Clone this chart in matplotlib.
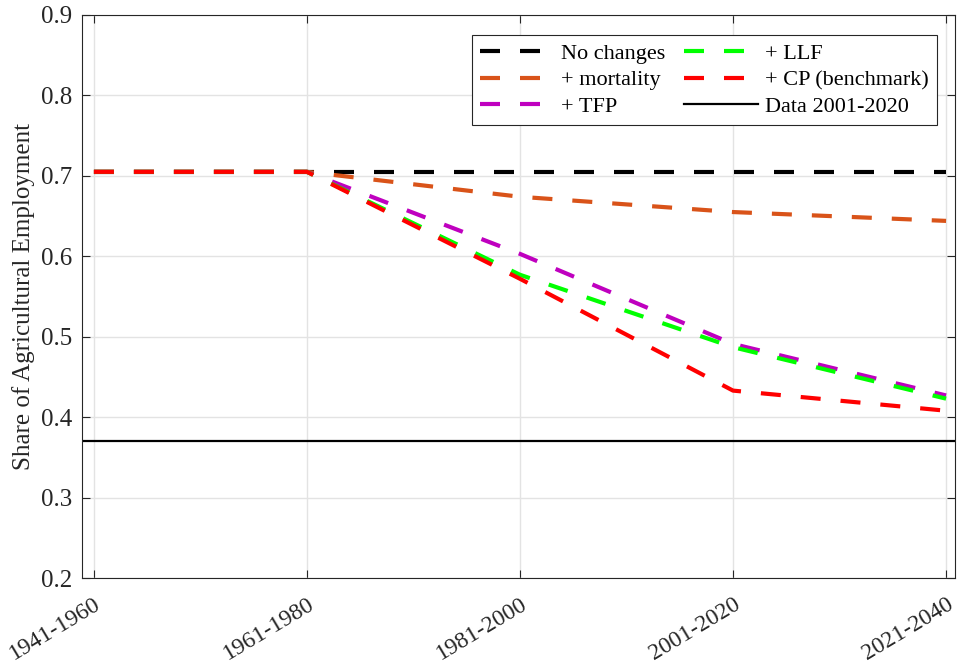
import matplotlib
matplotlib.use("Agg")
import matplotlib.pyplot as plt
import matplotlib.transforms as mtransforms

plt.rcParams['font.family'] = ['Liberation Serif', 'DejaVu Serif']
plt.rcParams['lines.scale_dashes'] = False

periods = ["1941-1960", "1961-1980", "1981-2000", "2001-2020", "2021-2040"]
no_changes = [0.705, 0.705, 0.705, 0.705, 0.705]
mortality = [0.705, 0.705, 0.674, 0.655, 0.644]
tfp = [0.705, 0.705, 0.603, 0.491, 0.427]
llf = [0.705, 0.705, 0.577, 0.487, 0.423]
cp_benchmark = [0.705, 0.705, 0.572, 0.433, 0.408]
data_2001_2020 = 0.370

x = list(range(1, len(periods) + 1))

fig = plt.figure(figsize=(9.6, 6.69), dpi=100)
ax = fig.add_axes([0.0854, 0.136, 0.9094, 0.8416])

lw = 3.0
dash = (14.4, 14.4)
series = [
    (no_changes, "#000000", "No changes"),
    (mortality, "#D95319", "+ mortality"),
    (tfp, "#BF00BF", "+ TFP"),
    (llf, "#00FF00", "+ LLF"),
    (cp_benchmark, "#FF0000", "+ CP (benchmark)"),
]
handles = []
for vals, col, lab in series:
    h, = ax.plot(x, vals, color=col, lw=lw, linestyle=(0, dash), label=lab,
                 dash_capstyle='butt', solid_joinstyle='miter')
    handles.append(h)
hd = ax.axhline(data_2001_2020, color='black', lw=1.6, label="Data 2001-2020")
handles.append(hd)

ax.set_xlim(0.944, 5.042)
ax.set_ylim(0.2, 0.9)
ax.set_yticks([0.2, 0.3, 0.4, 0.5, 0.6, 0.7, 0.8, 0.9])
ax.set_xticks(x)
ax.set_xticklabels(periods, rotation=31, ha='right', va='top', rotation_mode='anchor',
                   fontsize=17)
offset = mtransforms.ScaledTranslation(0.19, 0.0, fig.dpi_scale_trans)
for lbl in ax.get_xticklabels():
    lbl.set_transform(lbl.get_transform() + offset)

ax.grid(True, color='#e3e3e3', lw=1.0)
ax.set_axisbelow(True)
ax.tick_params(direction='in', top=True, right=True, length=6,
               width=0.8, colors='#262626', labelcolor='#262626')
ax.tick_params(axis='y', pad=7, labelsize=18)
ax.tick_params(axis='x', pad=11)
for sp in ax.spines.values():
    sp.set_color('#262626')
    sp.set_linewidth(0.8)

ax.set_ylabel("Share of Agricultural Employment", fontsize=18, color='#262626', labelpad=4)

leg = ax.legend(handles, [h.get_label() for h in handles],
                ncol=2, loc='upper right', bbox_to_anchor=(0.979, 0.9645),
                borderaxespad=0, fontsize=16, frameon=True, fancybox=False,
                handlelength=3.33, handletextpad=0.3, columnspacing=0.85,
                labelspacing=0.28, borderpad=0.36)
leg.get_frame().set_edgecolor('#262626')
leg.get_frame().set_linewidth(0.8)
leg.get_frame().set_alpha(1)

fig.savefig("out.png", dpi=100)
